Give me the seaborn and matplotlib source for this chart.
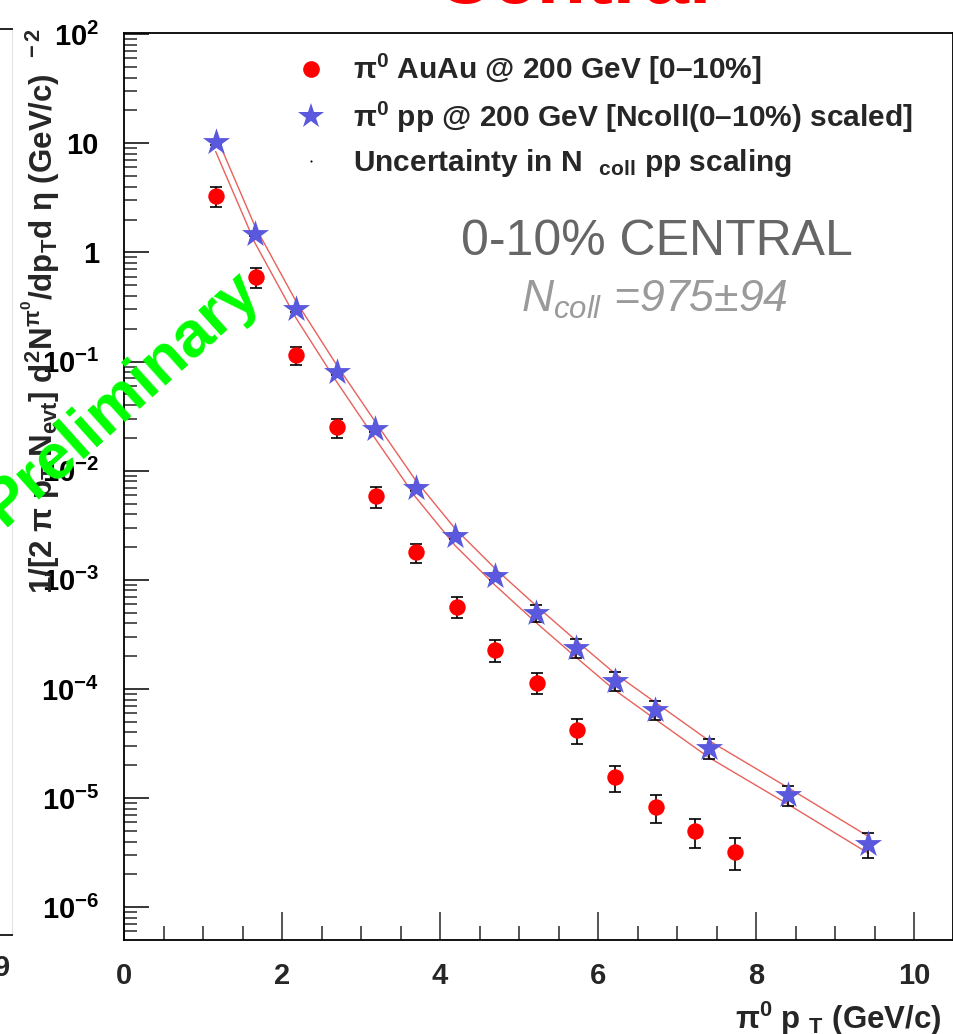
import numpy as np
import pandas as pd
import matplotlib
matplotlib.use("Agg")
import matplotlib.pyplot as plt
from matplotlib.lines import Line2D
from matplotlib.ticker import FixedLocator, FixedFormatter, LogLocator, NullFormatter, MultipleLocator
import seaborn as sns

# ---------------- data ----------------
auau_pt = [1.17, 1.67, 2.18, 2.70, 3.19, 3.70, 4.22, 4.70, 5.22, 5.73, 6.21, 6.73, 7.22, 7.73]
auau_y = [3.28, 0.593, 0.114, 0.0249, 0.00581, 0.00178, 5.69e-4, 2.29e-4, 1.14e-4,
          4.25e-5, 1.55e-5, 8.3e-6, 5.0e-6, 3.23e-6]
auau_err = [0.70, 0.12, 0.022, 0.0049, 0.0013, 0.00035, 1.2e-4, 5.4e-5, 2.5e-5,
            1.1e-5, 4.2e-6, 2.4e-6, 1.5e-6, 1.05e-6]

pp_pt = [1.16, 1.66, 2.18, 2.69, 3.18, 3.69, 4.19, 4.70, 5.21, 5.72, 6.21, 6.72, 7.40, 8.40, 9.42]
pp_y = [10.2, 1.47, 0.302, 0.0797, 0.0239, 0.00698, 0.00251, 0.00108, 4.98e-4, 2.38e-4,
        1.19e-4, 6.46e-5, 2.88e-5, 1.07e-5, 3.8e-6]
pp_err = [0.5, 0.07, 0.015, 0.004, 0.0013, 0.0004, 1.5e-4, 8e-5, 8.8e-5, 4.7e-5,
          2.3e-5, 1.3e-5, 5.9e-6, 2.2e-6, 9.8e-7]

band_hi = [11.9, 1.72, 0.353, 0.0932, 0.0280, 0.00817, 0.00294, 0.00126, 5.83e-4, 2.78e-4,
           1.39e-4, 7.56e-5, 3.37e-5, 1.25e-5, 4.45e-6]
band_lo = [8.4, 1.21, 0.248, 0.0654, 0.0196, 0.00572, 0.00206, 8.86e-4, 4.08e-4, 1.95e-4,
           9.76e-5, 5.3e-5, 2.36e-5, 8.8e-6, 3.12e-6]

xtick_values = [0, 2, 4, 6, 8, 10]
xtick_labels = ["0", "2", "4", "6", "8", "10"]
ytick_values = [1e-6, 1e-5, 1e-4, 1e-3, 1e-2, 1e-1, 1, 10, 100]
ytick_labels = [r"$10^{-6}$", r"$10^{-5}$", r"$10^{-4}$", r"$10^{-3}$", r"$10^{-2}$",
                r"$10^{-1}$", "1", "10", r"$10^{2}$"]

legend_labels = [r"$\pi^{0}$ AuAu @ 200 GeV [0–10%]",
                 r"$\pi^{0}$ pp @ 200 GeV [Ncoll(0–10%) scaled]",
                 r"Uncertainty in N  $_{coll}$ pp scaling"]

auau_df = pd.DataFrame({"pt": auau_pt, "y": auau_y})
pp_df = pd.DataFrame({"pt": pp_pt, "y": pp_y})
band_df = pd.DataFrame({"pt": pp_pt + pp_pt,
                        "y": band_hi + band_lo,
                        "edge": ["hi"] * len(pp_pt) + ["lo"] * len(pp_pt)})

# ---------------- style ----------------
sns.set_theme(style="ticks")
plt.rcParams["font.family"] = ["Liberation Sans", "DejaVu Sans"]
plt.rcParams["mathtext.fontset"] = "custom"
plt.rcParams["mathtext.rm"] = "Liberation Sans:bold"
plt.rcParams["mathtext.bf"] = "Liberation Sans:bold"
plt.rcParams["mathtext.it"] = "Liberation Sans:italic"
plt.rcParams["mathtext.default"] = "rm"
plt.rcParams["axes.unicode_minus"] = True

W, H = 954, 1034
fig = plt.figure(figsize=(W / 100, H / 100), dpi=100, facecolor="white")

def px(x0, y0, x1, y1):
    return [x0 / W, 1 - y1 / H, (x1 - x0) / W, (y1 - y0) / H]

# remnant of neighbouring panel at the left edge
axn = fig.add_axes(px(-300, 29, 12, 935))
axn.set_xticks([]); axn.set_yticks([])
axn.patch.set_alpha(0)
axn.spines["left"].set_visible(False)
axn.spines["right"].set_color("#e4e4e4")
axn.spines["right"].set_linewidth(0.8)
axn.spines["top"].set_linewidth(1.4)
axn.spines["bottom"].set_linewidth(1.4)
for s in ["top", "bottom"]:
    axn.spines[s].set_color("#222222")

ax = fig.add_axes(px(124, 33, 953, 940))
ax.set_facecolor("white")
ax.set_yscale("log")
ax.set_xlim(0, 10.49)
ax.set_ylim(10 ** -6.30, 10 ** 2.01)

# uncertainty band lines
sns.lineplot(data=band_df, x="pt", y="y", units="edge", estimator=None,
             color="#e8615b", linewidth=1.0, ax=ax, legend=False, zorder=2)

# error bars
ax.errorbar(auau_pt, auau_y, yerr=auau_err, fmt="none", ecolor="black",
            elinewidth=1.2, capsize=4, capthick=1.2, zorder=3)
ax.errorbar(pp_pt, pp_y, yerr=pp_err, fmt="none", ecolor="black",
            elinewidth=1.2, capsize=4, capthick=1.2, zorder=3)

# markers
sns.scatterplot(data=auau_df, x="pt", y="y", marker="o", s=140, color="#ff0000",
                linewidth=0, ax=ax, zorder=4, legend=False)
sns.scatterplot(data=pp_df, x="pt", y="y", marker="*", s=420, color="#5a58dc",
                linewidth=0, ax=ax, zorder=4, legend=False)

# ticks
ax.xaxis.set_major_locator(FixedLocator(xtick_values))
ax.xaxis.set_major_formatter(FixedFormatter(xtick_labels))
ax.xaxis.set_minor_locator(MultipleLocator(0.5))
ax.yaxis.set_major_locator(FixedLocator(ytick_values))
ax.yaxis.set_major_formatter(FixedFormatter(ytick_labels))
ax.yaxis.set_minor_locator(LogLocator(base=10, subs=np.arange(2, 10), numticks=20))
ax.yaxis.set_minor_formatter(NullFormatter())

ax.tick_params(axis="y", which="major", direction="in", length=18, width=1.1,
               labelsize=21, pad=18, colors="black", left=True, right=False)
ax.tick_params(axis="y", which="minor", direction="in", length=9, width=1.1,
               left=True, right=False)
ax.tick_params(axis="x", which="major", direction="in", length=20, width=1.1,
               labelsize=21, pad=16, bottom=True, top=False)
ax.tick_params(axis="x", which="minor", direction="in", length=10, width=1.1,
               bottom=True, top=False)
for lab in ax.get_xticklabels() + ax.get_yticklabels():
    lab.set_fontweight("bold")

for s in ax.spines.values():
    s.set_visible(True)
    s.set_color("black")
    s.set_linewidth(1.3)

ax.set_xlabel(r"$\pi^{0}$ p $_{T}$ (GeV/c)", fontsize=22.5, fontweight="bold", loc="right")
ax.xaxis.set_label_coords((942 - 124) / 829, (940 - 1000) / 907)
ax.set_ylabel(r"1/[2 $\pi$ p$_{T}$ N$_{evt}$] d$^{2}$N$^{\pi^{0}}$/dp$_{T}$d $\eta$ (GeV/c)$^{\ \ -2}$",
              fontsize=22.5, fontweight="bold", loc="top")
ax.yaxis.set_label_coords((62 - 124) / 829, (940 - 28) / 907)

# legend
handles = [
    Line2D([], [], linestyle="none", marker="o", markersize=12, color="#ff0000", markeredgewidth=0),
    Line2D([], [], linestyle="none", marker="*", markersize=19, color="#5a58dc", markeredgewidth=0),
    Line2D([], [], linestyle="none", marker="o", markersize=1.5, color="black", markeredgewidth=0),
]
leg = ax.legend(handles, legend_labels, loc="upper left",
                bbox_to_anchor=((296 - 124) / 829, (940 - 52) / 907),
                frameon=False, borderpad=0, borderaxespad=0, handlelength=1.0,
                handletextpad=0.9, labelspacing=0.42, prop={"size": 21.5, "weight": "bold"})

# annotations
fig.text(657 / W, 1 - 255 / H, "0-10% CENTRAL", fontsize=36, color="#666666",
         ha="center", va="baseline")
fig.text(654 / W, 1 - 312 / H, r"$\mathit{N}_{\mathit{coll}}$ =975±94", fontsize=32,
         color="#9a9a9a", style="italic", ha="center", va="baseline")
fig.text(573 / W, 1 - 3 / H, "Central", fontsize=58, color="#ff0000", fontweight="bold",
         ha="center", va="baseline")
fig.text(122 / W, 1 - 398 / H, "Preliminary", fontsize=46, color="#00ff00",
         fontweight="bold", rotation=42, ha="center", va="center",
         rotation_mode="anchor", zorder=10)
fig.text(2 / W, 1 - 968 / H, "9", fontsize=21, fontweight="bold", ha="center", va="center")

fig.savefig("out.png", dpi=100, facecolor="white")
